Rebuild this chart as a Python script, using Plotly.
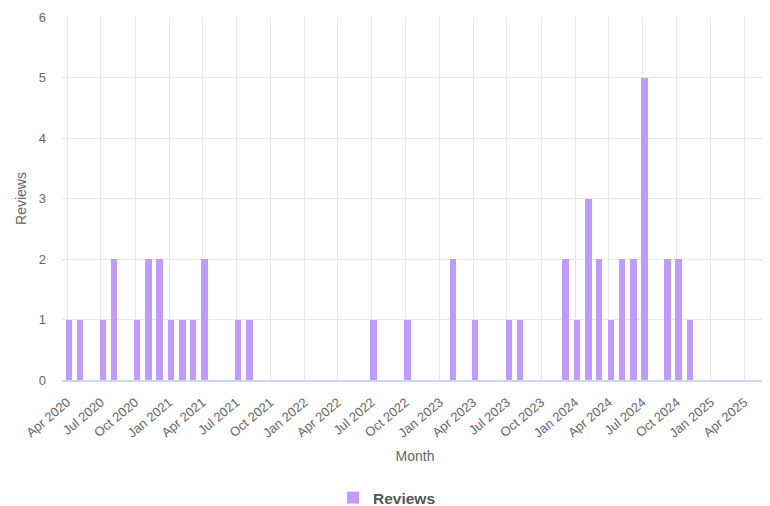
import plotly.graph_objects as go

months = ["2020-04", "2020-05", "2020-07", "2020-08", "2020-10", "2020-11", "2020-12",
          "2021-01", "2021-02", "2021-03", "2021-04", "2021-07", "2021-08",
          "2022-07", "2022-10", "2023-02", "2023-04", "2023-07", "2023-08",
          "2023-12", "2024-01", "2024-02", "2024-03", "2024-04", "2024-05", "2024-06",
          "2024-07", "2024-09", "2024-10", "2024-11"]
reviews = [1, 1, 1, 2, 1, 2, 2,
           1, 1, 1, 2, 1, 1,
           1, 1, 2, 1, 1, 1,
           2, 1, 3, 2, 1, 2, 2,
           5, 2, 2, 1]

x_dates = [m + "-01" for m in months]
DAY = 86400000

fig = go.Figure()
fig.add_trace(go.Bar(
    x=x_dates, y=reviews, name="Reviews",
    marker=dict(color="#c19bfc", line=dict(width=0)),
    width=17 * DAY, offset=-3.5 * DAY,
    showlegend=True,
))

grid = "#e6e6e6"
fig.update_layout(
    width=762, height=498,
    margin=dict(l=54, r=2, t=9, b=126, autoexpand=False),
    paper_bgcolor="white", plot_bgcolor="white",
    font=dict(family="Liberation Sans, Arial, sans-serif", size=13, color="#666"),
    bargap=0,
    showlegend=True,
    legend=dict(
        orientation="h", xref="container", yref="container",
        x=0.4265, xanchor="left", y=0.016, yanchor="middle",
        font=dict(size=15.5, color="#555", weight="bold"),
        itemclick=False,
    ),
    xaxis=dict(
        type="date", automargin=False,
        range=["2020-03-18", "2025-06-04"],
        tickvals=["2020-04-01", "2020-07-01", "2020-10-01", "2021-01-01", "2021-04-01",
                  "2021-07-01", "2021-10-01", "2022-01-01", "2022-04-01", "2022-07-01",
                  "2022-10-01", "2023-01-01", "2023-04-01", "2023-07-01", "2023-10-01",
                  "2024-01-01", "2024-04-01", "2024-07-01", "2024-10-01", "2025-01-01",
                  "2025-04-01"],
        tickformat="%b %Y",
        tickangle=-40,
        ticklabelstandoff=8,
        showgrid=True, gridcolor=grid, gridwidth=1,
        showline=True, linecolor="#cdd8ee", linewidth=1.5,
        ticks="", tickfont=dict(size=13, color="#666"),
        title=dict(text="Month", font=dict(size=14, color="#666"), standoff=12),
        zeroline=False,
    ),
    yaxis=dict(
        range=[0, 6], dtick=1, automargin=False,
        showgrid=True, gridcolor=grid, gridwidth=1,
        zeroline=False, showline=False,
        ticks="", ticklabelstandoff=15,
        tickfont=dict(size=13, color="#666"),
        title=dict(text="Reviews", font=dict(size=14, color="#666"), standoff=8),
    ),
)

fig.write_html("out.html")
